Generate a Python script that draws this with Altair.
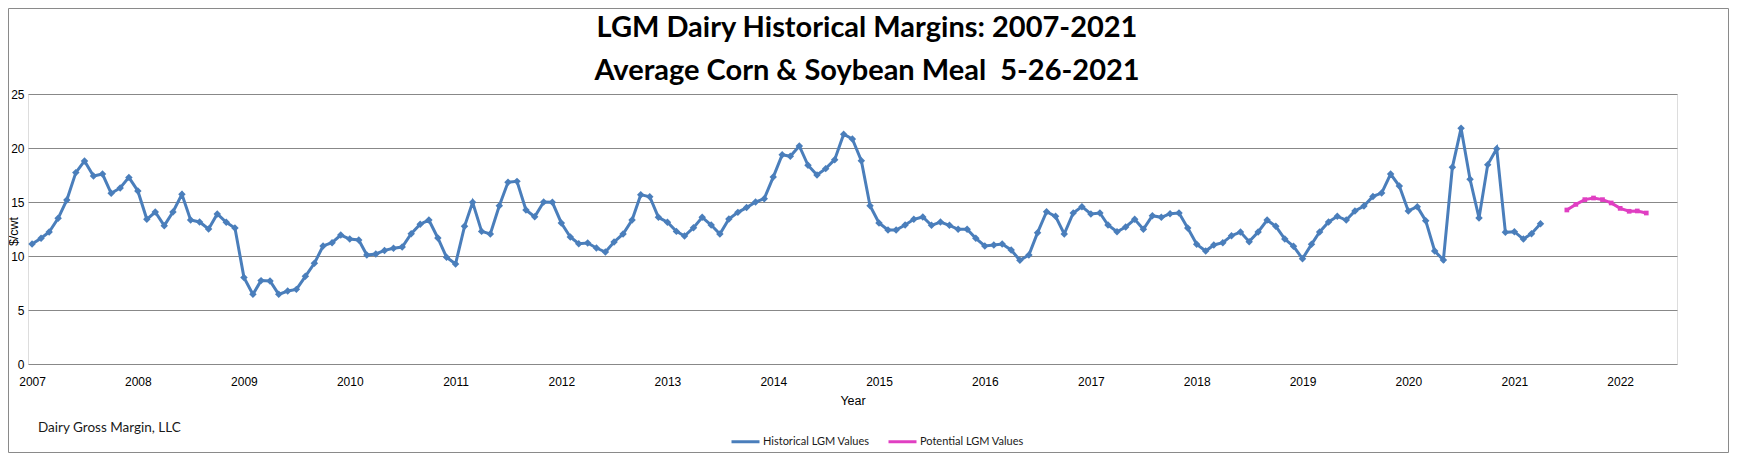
import altair as alt
import pandas as pd

# ---- data ----
hist_start = "2007-01-01"
hist_values = [
    11.11, 11.64, 12.22, 13.49, 15.19, 17.72, 18.80, 17.41, 17.59, 15.80, 16.30, 17.28,  # 2007
    16.02, 13.40, 14.07, 12.81, 14.07, 15.71, 13.33, 13.15, 12.50, 13.89, 13.12, 12.59,  # 2008
    8.02, 6.45, 7.72, 7.69, 6.45, 6.76, 6.91, 8.12, 9.32, 10.93, 11.23, 11.94,           # 2009
    11.57, 11.48, 10.09, 10.19, 10.52, 10.71, 10.83, 12.07, 12.95, 13.33, 11.67, 9.88,   # 2010
    9.26, 12.75, 14.97, 12.28, 12.04, 14.66, 16.82, 16.91, 14.26, 13.64, 15.00, 14.97,   # 2011
    13.06, 11.76, 11.14, 11.20, 10.74, 10.37, 11.30, 12.04, 13.33, 15.68, 15.49, 13.58,  # 2012
    13.12, 12.28, 11.85, 12.62, 13.58, 12.87, 12.04, 13.43, 14.04, 14.48, 15.00, 15.31,  # 2013
    17.31, 19.38, 19.23, 20.19, 18.40, 17.50, 18.09, 18.92, 21.27, 20.83, 18.83, 14.66,  # 2014
    13.06, 12.41, 12.41, 12.87, 13.40, 13.61, 12.84, 13.15, 12.84, 12.47, 12.47, 11.64,  # 2015
    10.93, 11.02, 11.11, 10.56, 9.60, 10.09, 12.16, 14.10, 13.67, 12.04, 13.98, 14.57,   # 2016
    13.89, 13.98, 12.87, 12.25, 12.69, 13.40, 12.47, 13.73, 13.58, 13.92, 13.98, 12.59,  # 2017
    11.08, 10.46, 11.02, 11.23, 11.88, 12.22, 11.33, 12.22, 13.33, 12.75, 11.57, 10.90,  # 2018
    9.75, 11.08, 12.22, 13.15, 13.67, 13.33, 14.17, 14.63, 15.52, 15.83, 17.59, 16.48,   # 2019
    14.17, 14.57, 13.27, 10.46, 9.63, 18.21, 21.82, 17.10, 13.52, 18.46, 19.94, 12.19,   # 2020
    12.25, 11.57, 12.07, 12.99,                                                           # 2021
]
pot_start = "2021-07-01"
pot_values = [14.26, 14.78, 15.22, 15.37, 15.22, 14.91, 14.41, 14.14, 14.17, 13.98]

series_names = ["Historical LGM Values", "Potential LGM Values"]
series_colors = ["#4A7EBB", "#E03FC2"]
y_ticks = [0, 5, 10, 15, 20, 25]
year_ticks = list(range(2007, 2023))
title_line1 = ["LGM Dairy Historical Margins: 2007-2021"]
title_line2 = ["Average Corn & Soybean Meal\u00a0 5-26-2021"]
footer_text = ["Dairy Gross Margin, LLC"]

# ---- tables ----
hist_dates = pd.date_range(hist_start, periods=len(hist_values), freq="MS")
pot_dates = pd.date_range(pot_start, periods=len(pot_values), freq="MS")
df = pd.concat([
    pd.DataFrame({"date": hist_dates.strftime("%Y-%m-%d"), "value": hist_values,
                  "series": series_names[0]}),
    pd.DataFrame({"date": pot_dates.strftime("%Y-%m-%d"), "value": pot_values,
                  "series": series_names[1]}),
], ignore_index=True)

FONT = "Lato"
W, H = 1649, 270
PAD = {"left": 20, "top": 86, "right": 52, "bottom": 89}

x_enc = alt.X(
    "date:T",
    scale=alt.Scale(type="utc", domain=[
        alt.DateTime(year=2006, month=12, date=18, utc=True),
        alt.DateTime(year=2022, month=7, date=16, utc=True)]),
    axis=alt.Axis(
        values=[alt.DateTime(year=y, month=1, date=1, utc=True) for y in year_ticks],
        format="%Y", title="Year", grid=False, domain=False, ticks=False,
        labelPadding=17, labelBaseline="middle", labelFontSize=12,
        titleY=36, titleBaseline="middle", titleFontSize=12.5, titleFontWeight="normal",
    ),
)
y_enc = alt.Y(
    "value:Q",
    scale=alt.Scale(domain=[0, 25], nice=False, zero=True),
    axis=alt.Axis(
        values=y_ticks, grid=True, gridColor="#888888", gridWidth=1,
        domain=False, ticks=False, labelPadding=4, labelFontSize=12,
        title="$/cwt", titleAngle=270, titleX=-15, titleY=137,
        titleAlign="center", titleBaseline="middle", titleFontSize=12.5,
        titleFontWeight="normal",
    ),
)

base = alt.Chart(df)

lines = base.mark_line(strokeWidth=3).encode(
    x=x_enc, y=y_enc,
    color=alt.Color(
        "series:N",
        scale=alt.Scale(domain=series_names, range=series_colors),
        legend=alt.Legend(
            title=None, orient="none", legendX=702, legendY=332,
            direction="horizontal", symbolType="stroke", symbolStrokeWidth=3,
            symbolSize=784, labelFont=FONT, labelFontSize=11, labelColor="#1a1a1a",
            columnPadding=12, labelOffset=2,
        ),
    ),
    detail="series:N",
)

hist_pts = base.transform_filter(alt.datum.series == series_names[0]).mark_point(
    shape="diamond", filled=True, size=56, opacity=1, color=series_colors[0]
).encode(x="date:T", y="value:Q")

pot_pts = base.transform_filter(alt.datum.series == series_names[1]).mark_point(
    shape="square", filled=True, size=22, opacity=1, color=series_colors[1]
).encode(x="date:T", y="value:Q")

frame = alt.Chart(pd.DataFrame({"k": [0]})).mark_rect(
    fillOpacity=0, stroke="#8a8a8a", strokeWidth=1
).encode(
    x=alt.value(-19.5), x2=alt.value(W + 51.5),
    y=alt.value(-85.5), y2=alt.value(H + 88.5),
)

title1 = alt.Chart(pd.DataFrame({"t": title_line1})).mark_text(
    align="center", baseline="alphabetic", font=FONT, fontSize=29,
    fontWeight="bold", color="#000000"
).encode(text="t:N", x=alt.value(839), y=alt.value(-57))

title2 = alt.Chart(pd.DataFrame({"t": title_line2})).mark_text(
    align="center", baseline="alphabetic", font=FONT, fontSize=29,
    fontWeight="bold", color="#000000"
).encode(text="t:N", x=alt.value(839), y=alt.value(-14))

footer = alt.Chart(pd.DataFrame({"t": footer_text})).mark_text(
    align="left", baseline="middle", font=FONT, fontSize=13.5, color="#1a1a1a"
).encode(text="t:N", x=alt.value(10), y=alt.value(334))

chart = alt.layer(frame, lines, hist_pts, pot_pts, title1, title2, footer).properties(
    width=W, height=H,
    autosize=alt.AutoSizeParams(type="none"),
    padding=PAD,
).configure_view(stroke=None).configure_axis(
    labelFont=FONT, titleFont=FONT, labelColor="#1a1a1a", titleColor="#1a1a1a"
).configure(background="white")

chart.save("out.html", embed_options={"renderer": "svg", "actions": False})
